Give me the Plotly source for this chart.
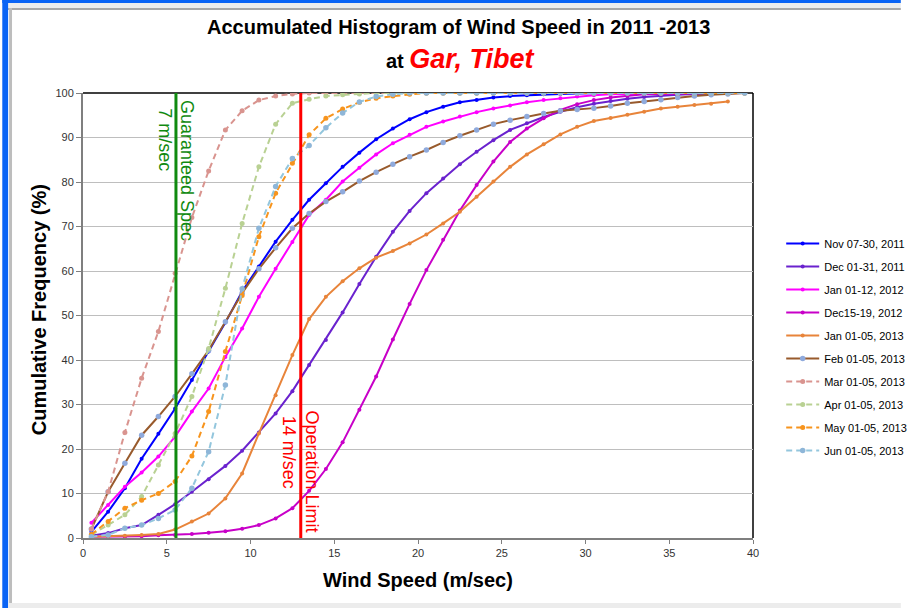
import plotly.graph_objects as go

# ---------------- data ----------------
WIND_BINS = [0.5, 1.5, 2.5, 3.5, 4.5, 5.5, 6.5, 7.5, 8.5, 9.5,
             10.5, 11.5, 12.5, 13.5, 14.5, 15.5, 16.5, 17.5, 18.5, 19.5,
             20.5, 21.5, 22.5, 23.5, 24.5, 25.5, 26.5, 27.5, 28.5, 29.5,
             30.5, 31.5, 32.5, 33.5, 34.5, 35.5, 36.5, 37.5, 38.5, 39.5]

SERIES_NAMES = ["Nov 07-30, 2011", "Dec 01-31, 2011", "Jan 01-12, 2012", "Dec15-19, 2012",
                "Jan 01-05, 2013", "Feb 01-05, 2013", "Mar 01-05, 2013", "Apr 01-05, 2013",
                "May 01-05, 2013", "Jun 01-05, 2013"]

nov_2011 = [1.4, 5.9, 11.2, 17.8, 23.4, 29.1, 35.5, 41.9, 48.4, 55.4,
            61.0, 66.6, 71.5, 76.0, 79.7, 83.4, 86.6, 89.6, 92.0, 94.1,
            95.7, 96.9, 97.9, 98.4, 99.0, 99.3, 99.5, 99.7, 99.8, 99.9,
            100, 100, 100, 100, 100, 100, 100, 100, 100, 100]
dec_2011 = [0.5, 1.1, 2.2, 2.9, 5.2, 7.6, 10.4, 13.2, 16.2, 19.6,
            23.7, 28.0, 33.0, 38.9, 44.5, 50.7, 57.1, 63.2, 68.8, 73.5,
            77.5, 80.8, 84.0, 86.8, 89.4, 91.7, 93.2, 94.6, 95.8, 96.8,
            97.6, 98.2, 98.7, 99.1, 99.4, 99.6, 99.8, 99.9, 100, 100]
jan_2012 = [3.4, 7.4, 11.5, 14.7, 18.3, 22.8, 28.4, 33.6, 40.7, 47.1,
            54.2, 60.5, 66.5, 72.6, 76.0, 80.1, 83.2, 86.2, 88.7, 90.6,
            92.4, 93.6, 94.7, 95.7, 96.5, 97.2, 97.9, 98.4, 98.8, 99.2,
            99.5, 99.7, 99.8, 99.9, 100, 100, 100, 100, 100, 100]
dec_2012 = [0.3, 0.3, 0.3, 0.4, 0.6, 0.7, 0.9, 1.2, 1.5, 2.1,
            2.9, 4.4, 6.7, 10.6, 15.5, 21.5, 28.8, 36.3, 44.6, 52.6,
            60.2, 67.0, 73.6, 79.3, 84.6, 89.0, 92.0, 94.3, 96.2, 97.5,
            98.4, 99.0, 99.4, 99.7, 99.8, 99.9, 100, 100, 100, 100]
jan_2013 = [0.3, 0.4, 0.5, 0.7, 0.9, 1.9, 3.7, 5.5, 8.9, 14.5,
            23.5, 32.1, 41.1, 49.2, 54.2, 57.7, 60.6, 63.0, 64.5, 66.2,
            68.2, 70.7, 73.3, 76.7, 80.1, 83.4, 86.2, 88.5, 90.7, 92.4,
            93.7, 94.4, 95.1, 95.8, 96.5, 96.9, 97.3, 97.6, 98.1]
feb_2013 = [2.0, 10.4, 16.8, 23.1, 27.3, 31.8, 36.9, 42.2, 48.6, 55.0,
            60.5, 65.2, 69.6, 72.9, 75.6, 77.8, 80.2, 82.2, 84.0, 85.7,
            87.2, 88.9, 90.4, 91.7, 93.0, 93.9, 94.7, 95.4, 96.0, 96.3,
            96.6, 97.1, 97.7, 98.1, 98.5, 99.0, 99.3, 99.6, 99.8, 100]
mar_2013 = [2.0, 10.4, 23.7, 35.9, 46.4, 59.5, 72.0, 82.5, 91.7, 96.0,
            98.4, 99.3, 99.8, 100, 100, 100, 100, 100, 100, 100,
            100, 100, 100, 100, 100, 100, 100, 100, 100, 100,
            100, 100, 100, 100, 100, 100, 100, 100, 100, 100]
apr_2013 = [0.7, 2.9, 5.2, 9.3, 16.4, 23.5, 31.8, 42.6, 56.1, 70.7,
            83.4, 93.0, 97.7, 98.6, 99.3, 99.6, 99.8, 100, 100, 100,
            100, 100, 100, 100, 100, 100, 100, 100, 100, 100,
            100, 100, 100, 100, 100, 100, 100, 100, 100, 100]
may_2013 = [0.8, 3.7, 6.7, 8.5, 10.0, 12.7, 18.4, 28.4, 41.9, 54.5,
            67.7, 77.5, 84.2, 90.6, 94.3, 96.4, 97.9, 98.8, 99.3, 99.7,
            100, 100, 100, 100, 100, 100, 100, 100, 100, 100,
            100, 100, 100, 100, 100, 100, 100, 100, 100, 100]
jun_2013 = [0.3, 0.7, 2.2, 2.9, 4.4, 6.3, 11.2, 19.4, 34.4, 56.0,
            69.6, 79.0, 85.3, 88.2, 92.2, 95.5, 98.0, 99.2, 99.7, 100,
            100, 100, 100, 100, 100, 100, 100, 100, 100, 100,
            100, 100, 100, 100, 100, 100, 100, 100, 100, 100]

SERIES_VALUES = [nov_2011, dec_2011, jan_2012, dec_2012, jan_2013,
                 feb_2013, mar_2013, apr_2013, may_2013, jun_2013]

GUARANTEED_SPEC = 5.55   # drawn position of the "7 m/sec" line
OPERATION_LIMIT = 13.0   # drawn position of the "14 m/sec" line

X_TICKS = [0, 5, 10, 15, 20, 25, 30, 35, 40]
Y_TICKS = [0, 10, 20, 30, 40, 50, 60, 70, 80, 90, 100]

# ---------------- styles ----------------
STYLES = [
    dict(line="#0000FF", marker="#0000FF", dash="solid", msize=4),
    dict(line="#6A22CE", marker="#6A22CE", dash="solid", msize=4),
    dict(line="#FF00FF", marker="#FF00FF", dash="solid", msize=4),
    dict(line="#C800C8", marker="#C800C8", dash="solid", msize=4),
    dict(line="#E8843A", marker="#E8843A", dash="solid", msize=4),
    dict(line="#985A2C", marker="#8FAADC", dash="solid", msize=5.5),
    dict(line="#D9948F", marker="#D9948F", dash="6px,4px", msize=5),
    dict(line="#B9D193", marker="#B9D193", dash="6px,4px", msize=5),
    dict(line="#F7941D", marker="#F7941D", dash="6px,4px", msize=5),
    dict(line="#93C6DD", marker="#8EB6D8", dash="6px,4px", msize=5.5),
]

FONT = "Liberation Sans, Arial, sans-serif"
W, H = 924, 608
L, R, T, B = 83, 152, 93, 70
PW, PH = W - L - R, H - T - B


def px(xp):
    return (xp - L) / PW


def py(yp):
    return (H - B - yp) / PH


fig = go.Figure()
for i, (name, vals, st) in enumerate(zip(SERIES_NAMES, SERIES_VALUES, STYLES)):
    fig.add_trace(go.Scatter(
        x=WIND_BINS[:len(vals)], y=vals, name=name, mode="lines+markers",
        legendgroup="g%d" % i,
        line=dict(color=st["line"], width=2, dash=st["dash"]),
        marker=dict(color=st["marker"], size=st["msize"], symbol="circle"),
    ))

shapes = [
    # plot frame top / right
    dict(type="line", xref="paper", yref="paper", x0=0, x1=1, y0=1, y1=1,
         line=dict(color="#000000", width=1.5), layer="between"),
    dict(type="line", xref="paper", yref="paper", x0=1, x1=1, y0=0, y1=1,
         line=dict(color="#000000", width=1.5), layer="between"),
    # reference lines
    dict(type="line", xref="x", yref="y", x0=GUARANTEED_SPEC, x1=GUARANTEED_SPEC, y0=0, y1=100,
         line=dict(color="#108A10", width=3)),
    dict(type="line", xref="x", yref="y", x0=OPERATION_LIMIT, x1=OPERATION_LIMIT, y0=0, y1=100,
         line=dict(color="#FF0000", width=3)),
    # window frame decoration
    dict(type="rect", xref="paper", yref="paper", x0=px(0), x1=px(W), y0=py(0), y1=py(3),
         line=dict(width=0), fillcolor="#0A64F5"),
    dict(type="rect", xref="paper", yref="paper", x0=px(6), x1=px(W), y0=py(3), y1=py(8),
         line=dict(width=0), fillcolor="#EDEDED"),
    dict(type="rect", xref="paper", yref="paper", x0=px(6), x1=px(W), y0=py(8), y1=py(10),
         line=dict(width=0), fillcolor="#A8A8A8"),
    dict(type="rect", xref="paper", yref="paper", x0=px(0), x1=px(6), y0=py(0), y1=py(H),
         line=dict(width=0), fillcolor="#0A64F5"),
    dict(type="rect", xref="paper", yref="paper", x0=px(7), x1=px(10), y0=py(8), y1=py(H),
         line=dict(width=0), fillcolor="#BDBDBD"),
    dict(type="rect", xref="paper", yref="paper", x0=px(6), x1=px(W), y0=py(603), y1=py(H),
         line=dict(width=0), fillcolor="#ECECEC"),
]


def ann(text, xp, yp, size, color, angle=0):
    return dict(text=text, xref="paper", yref="paper", x=px(xp), y=py(yp),
                xanchor="center", yanchor="middle", textangle=angle, showarrow=False,
                font=dict(family=FONT, size=size, color=color))


annotations = [
    ann("<b>Accumulated Histogram of Wind Speed in 2011 -2013</b>", 469, 27, 20, "#000000"),
    ann("<b>at <i><span style='font-size:27px;color:#FF0000'>Gar, Tibet</span></i></b>",
        471, 59, 20, "#000000"),
    ann("<b>Cumulative Frequency (%)</b>", 38, 310, 20, "#000000", -90),
    ann("<b>Wind Speed (m/sec)</b>", 428, 580, 20, "#000000"),
    ann("Guaranteed Spec", 190, 170, 18, "#108A10", 90),
    ann("7 m/sec", 167, 140, 18, "#108A10", 90),
    ann("Operation Limit", 318, 471, 18, "#FF0000", 90),
    ann("14 m/sec", 295, 452, 18, "#FF0000", 90),
]

fig.update_layout(
    width=W, height=H,
    margin=dict(l=L, r=R, t=T, b=B, pad=0),
    paper_bgcolor="#FFFFFF", plot_bgcolor="#FFFFFF",
    font=dict(family=FONT, size=11, color="#333333"),
    showlegend=True,
    legend=dict(x=px(801), y=py(229), xanchor="left", yanchor="top",
                font=dict(family=FONT, size=11, color="#000000"),
                bgcolor="rgba(0,0,0,0)", itemwidth=33, tracegroupgap=4),
    shapes=shapes, annotations=annotations,
)
fig.update_xaxes(range=[0, 40], tickvals=X_TICKS, showgrid=False, zeroline=False,
                 showline=True, linecolor="#7F7F7F", linewidth=2,
                 ticks="outside", ticklen=4, tickcolor="#7F7F7F",
                 tickfont=dict(family=FONT, size=11, color="#333333"))
fig.update_yaxes(range=[0, 100], tickvals=Y_TICKS, showgrid=True, gridcolor="#BEBEBE", gridwidth=1,
                 zeroline=False, showline=True, linecolor="#7F7F7F", linewidth=2,
                 ticks="outside", ticklen=5, tickcolor="#7F7F7F",
                 tickfont=dict(family=FONT, size=11, color="#333333"))

fig.write_html("out.html")
